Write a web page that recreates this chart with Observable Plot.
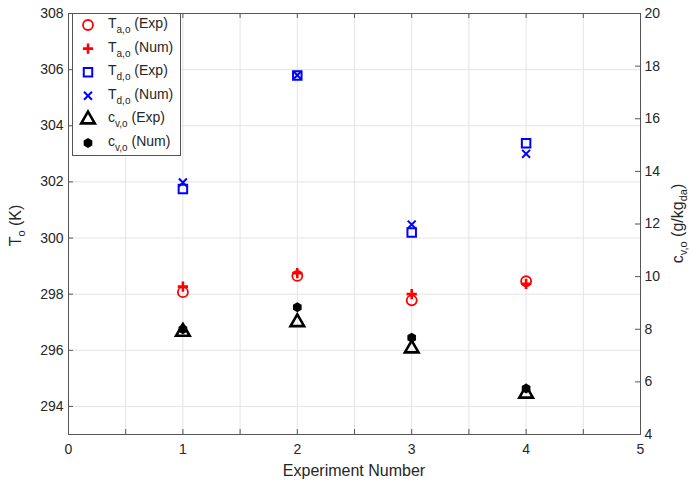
<!DOCTYPE html>
<html><head><meta charset="utf-8">
<script src="https://cdn.jsdelivr.net/npm/d3@7"></script>
<script src="https://cdn.jsdelivr.net/npm/@observablehq/plot@0.6"></script>
<style>body{margin:0;background:#fff;font-family:"Liberation Sans",Arial,sans-serif}</style>
</head><body><div id="chart"></div>
<script>
// ---- data ----
const experiments = [1, 2, 3, 4];
const taExp = [298.07, 298.65, 297.78, 298.46];
const taNum = [298.27, 298.75, 298.00, 298.37];
const tdExp = [301.75, 305.79, 300.20, 303.38];
const tdNum = [301.98, 305.80, 300.48, 303.00];
const cvExp = [7.90, 8.27, 7.27, 5.55];
const cvNum = [8.00, 8.84, 7.68, 5.75];
const xTicks = [0, 1, 2, 3, 4, 5];
const xMinor = [0, 0.5, 1, 1.5, 2, 2.5, 3, 3.5, 4, 4.5, 5];
const tTicks = [294, 296, 298, 300, 302, 304, 306, 308];
const cvTicks = [4, 6, 8, 10, 12, 14, 16, 18, 20];
const tDomain = [293, 308];
const cvDomain = [4, 20];
const legendItems = [
  {main: "T", sub: "a,o", tag: " (Exp)", key: "taExp"},
  {main: "T", sub: "a,o", tag: " (Num)", key: "taNum"},
  {main: "T", sub: "d,o", tag: " (Exp)", key: "tdExp"},
  {main: "T", sub: "d,o", tag: " (Num)", key: "tdNum"},
  {main: "c", sub: "v,o", tag: " (Exp)", key: "cvExp"},
  {main: "c", sub: "v,o", tag: " (Num)", key: "cvNum"}
];

// ---- styles ----
const W = 689, H = 484, mL = 68, mR = 49, mT = 13, mB = 50;
const pw = W - mL - mR, ph = H - mT - mB;
const FONT = "Liberation Sans, Arial, sans-serif";
const hexagon = {draw(ctx, size) {
  const rx = Math.sqrt(size / Math.PI), hy = rx * Math.sqrt(3) / 2;
  ctx.moveTo(0, rx); ctx.lineTo(hy, rx / 2); ctx.lineTo(hy, -rx / 2); ctx.lineTo(0, -rx);
  ctx.lineTo(-hy, -rx / 2); ctx.lineTo(-hy, rx / 2); ctx.closePath();
}};
const styles = {
  taExp: {symbol: d3.symbolCircle, r: 5, stroke: "#ff0000", fill: "none", strokeWidth: 1.8},
  taNum: {symbol: d3.symbolPlus, r: 3.4, stroke: "#ff0000", fill: "none", strokeWidth: 2.6},
  tdExp: {symbol: d3.symbolSquare2, r: 5.4, stroke: "#0000ff", fill: "none", strokeWidth: 2},
  tdNum: {symbol: d3.symbolTimes, r: 3.7, stroke: "#0000ff", fill: "none", strokeWidth: 2},
  cvExp: {symbol: d3.symbolTriangle2, r: 6.5, stroke: "#000", fill: "none", strokeWidth: 2.6},
  cvNum: {symbol: hexagon, r: 5, stroke: "none", fill: "#000", strokeWidth: 0}
};

// map cv (right axis) into T (left axis) units
const cvToT = c => tDomain[0] + (c - cvDomain[0]) * (tDomain[1] - tDomain[0]) / (cvDomain[1] - cvDomain[0]);
const tToCv = t => cvDomain[0] + (t - tDomain[0]) * (cvDomain[1] - cvDomain[0]) / (tDomain[1] - tDomain[0]);

const series = {taExp, taNum, tdExp, tdNum, cvExp: cvExp.map(cvToT), cvNum: cvNum.map(cvToT)};

const dotMarks = Object.keys(series).map(k => {
  const rows = experiments.map((e, i) => ({e, v: series[k][i]}));
  return Plot.dot(rows, {x: "e", y: "v", ...styles[k]});
});

const plot = Plot.plot({
  width: W, height: H,
  marginLeft: mL, marginRight: mR, marginTop: mT, marginBottom: mB,
  style: {fontFamily: FONT, fontSize: "14px", color: "#262626", background: "#fff", overflow: "visible"},
  x: {domain: [0, 5]},
  y: {domain: tDomain},
  marks: [
    Plot.gridX(xMinor, {stroke: "#e4e4e4", strokeOpacity: 1}),
    Plot.gridY(tTicks, {stroke: "#e4e4e4", strokeOpacity: 1}),
    Plot.axisX(xTicks, {tickSize: 0, tickPadding: 10, label: null, fontSize: 14, tickFormat: d => String(d)}),
    Plot.axisY(tTicks, {anchor: "left", tickSize: 0, tickPadding: 5, label: null, fontSize: 14, tickFormat: d => String(d)}),
    Plot.axisY(cvTicks.map(cvToT), {anchor: "right", tickSize: 0, tickPadding: 4, label: null, fontSize: 14,
      tickFormat: t => String(Math.round(tToCv(t)))}),
    Plot.tickX(xMinor, {x: d => d, insetTop: ph - 5, stroke: "#555"}),
    Plot.tickX(xMinor, {x: d => d, insetBottom: ph - 5, stroke: "#555"}),
    Plot.tickY(tTicks, {y: d => d, insetRight: pw - 5, stroke: "#555"}),
    Plot.tickY(cvTicks.map(cvToT), {y: d => d, insetLeft: pw - 5, stroke: "#555"}),
    Plot.frame({stroke: "#555"}),
    ...dotMarks
  ]
});
document.getElementById("chart").appendChild(plot);

// ---- titles with subscripts & legend ----
const svg = d3.select(plot);
function richText(g, x, y, parts, opts = {}) {
  const t = g.append("text").attr("x", x).attr("y", y)
    .attr("font-family", FONT).attr("font-size", opts.size || 14).attr("fill", "#262626")
    .attr("text-anchor", opts.anchor || "start");
  if (opts.rotate) t.attr("transform", `rotate(-90 ${x} ${y})`);
  parts.forEach(p => {
    const s = t.append("tspan").text(p.text);
    if (p.size) s.attr("font-size", p.size);
    if (p.dy) s.attr("dy", p.dy);
  });
  return t;
}
richText(svg, (mL + W - mR) / 2, 476, [{text: "Experiment Number"}], {size: 16, anchor: "middle"});
richText(svg, 21, mT + ph / 2 + 2, [{text: "T"}, {text: "o", size: 11, dy: 4}, {text: " (K)", dy: -4}], {size: 16, anchor: "middle", rotate: true});
richText(svg, 683, mT + ph / 2, [{text: "c"}, {text: "v,o", size: 11, dy: 4}, {text: " (g/kg", dy: -4}, {text: "da", size: 11, dy: 4}, {text: ")", dy: -4}], {size: 16, anchor: "middle", rotate: true});

const lg = svg.append("g");
lg.append("rect").attr("x", 72.5).attr("y", 13.5).attr("width", 108).attr("height", 142)
  .attr("fill", "#fff").attr("stroke", "#555");
legendItems.forEach((it, i) => {
  const y = 25 + i * 23.6;
  const st = styles[it.key];
  lg.append("path").attr("transform", `translate(88,${y})`)
    .attr("d", d3.symbol(st.symbol, st.r * st.r * Math.PI)())
    .attr("fill", st.fill).attr("stroke", st.stroke).attr("stroke-width", st.strokeWidth);
  richText(lg, 108, y + 3, [{text: it.main}, {text: it.sub, size: 10, dy: 5}, {text: it.tag, dy: -5}], {size: 14});
});
</script>
</body></html>
